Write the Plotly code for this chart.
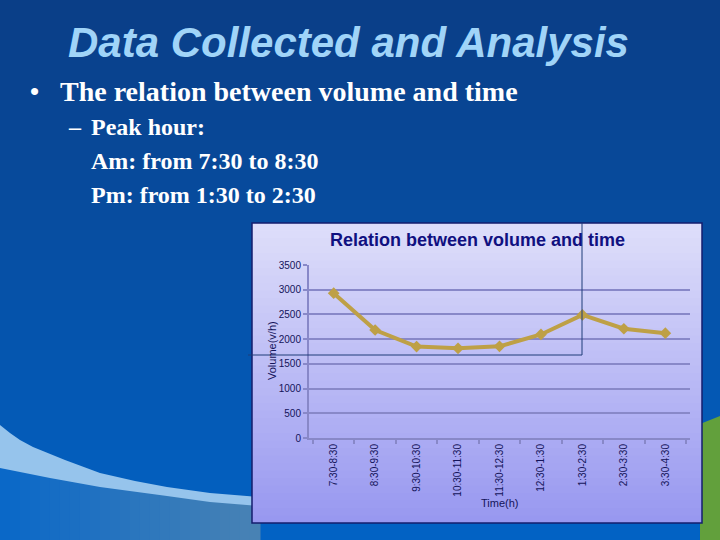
import plotly.graph_objects as go

# ---- data ----
time_slots = ["7:30-8:30", "8:30-9:30", "9:30-10:30", "10:30-11:30", "11:30-12:30",
              "12:30-1:30", "1:30-2:30", "2:30-3:30", "3:30-4:30"]
volume = [2930, 2185, 1850, 1815, 1855, 2095, 2490, 2210, 2120]
y_ticks = [0, 500, 1000, 1500, 2000, 2500, 3000, 3500]

W, H = 720, 540


def px(x):
    return x / W


def py(y):
    return 1 - y / H


def lerp_color(c1, c2, t):
    return "rgb(%d,%d,%d)" % tuple(round(a + (b - a) * t) for a, b in zip(c1, c2))


shapes = []
# slide background gradient (strips)
n = 54
top_c, bot_c = (10, 62, 135), (2, 98, 196)
for i in range(n):
    y0 = i * H / n
    y1 = (i + 1) * H / n + 0.6
    shapes.append(dict(type="rect", xref="paper", yref="paper", x0=0, x1=1,
                       y0=py(y1), y1=py(y0), fillcolor=lerp_color(top_c, bot_c, i / (n - 1)),
                       line=dict(width=0), layer="below"))


def path(pts):
    s = "M %f,%f" % (px(pts[0][0]), py(pts[0][1]))
    for x, y in pts[1:]:
        s += " L %f,%f" % (px(x), py(y))
    return s + " Z"


lower_edge = [(0, 468), (50, 478), (100, 487), (167, 496), (210, 502), (260, 506)]


def lower_y(x):
    for (xa, ya), (xb, yb) in zip(lower_edge[:-1], lower_edge[1:]):
        if xa <= x <= xb:
            return ya + (yb - ya) * (x - xa) / (xb - xa)
    return lower_edge[-1][1]


# lower region below the swoosh: horizontal gradient
step = 10
for i in range(0, 260, step):
    xa, xb = i, i + step + 0.5
    col = lerp_color((10, 104, 200), (72, 130, 180), i / 250)
    shapes.append(dict(type="path", xref="paper", yref="paper",
                       path=path([(xa, lower_y(xa) - 1), (xb, lower_y(min(xb, 260)) - 1), (xb, 540), (xa, 540)]),
                       fillcolor=col, line=dict(width=0), layer="below"))
# swoosh
upper = [(0, 425), (10, 433), (20, 440), (33, 447), (65, 460), (100, 473), (135, 481), (167, 487),
         (210, 493), (260, 497)]
lower = lower_edge[::-1]
shapes.append(dict(type="path", xref="paper", yref="paper", path=path(upper + lower),
                   fillcolor="rgb(150,196,236)", line=dict(width=0), layer="below"))
# green hill at right edge
shapes.append(dict(type="path", xref="paper", yref="paper",
                   path=path([(700, 424), (710, 420), (720, 416), (720, 540), (700, 540)]),
                   fillcolor="rgb(98,160,60)", line=dict(width=0), layer="below"))

# chart area gradient
cx0, cx1, cy0, cy1 = 252, 702, 223, 523
m = 40
c_top, c_bot = (222, 222, 250), (152, 152, 240)
for i in range(m):
    y0 = cy0 + i * (cy1 - cy0) / m
    y1 = cy0 + (i + 1) * (cy1 - cy0) / m + 0.5
    shapes.append(dict(type="rect", xref="paper", yref="paper", x0=px(cx0), x1=px(cx1),
                       y0=py(min(y1, cy1)), y1=py(y0), fillcolor=lerp_color(c_top, c_bot, i / (m - 1)),
                       line=dict(width=0), layer="below"))
shapes.append(dict(type="rect", xref="paper", yref="paper", x0=px(cx0), x1=px(cx1),
                   y0=py(cy1), y1=py(cy0), fillcolor="rgba(0,0,0,0)",
                   line=dict(color="rgb(20,30,110)", width=1.5), layer="below"))
# thin overlay lines
shapes.append(dict(type="line", xref="paper", yref="paper", x0=px(582), x1=px(582),
                   y0=py(355), y1=py(223), line=dict(color="rgb(30,60,120)", width=1), layer="above"))
shapes.append(dict(type="line", xref="paper", yref="paper", x0=px(248), x1=px(582),
                   y0=py(355), y1=py(355), line=dict(color="rgb(30,60,120)", width=1), layer="above"))

fig = go.Figure()
fig.add_trace(go.Scatter(
    x=time_slots, y=volume, mode="lines+markers",
    line=dict(color="rgb(190,160,70)", width=4),
    marker=dict(symbol="diamond", size=9, color="rgb(190,160,70)"),
    showlegend=False, cliponaxis=False))

grid_c = "rgb(136,136,200)"
tick_font = dict(family="Liberation Sans, Arial", size=10, color="rgb(20,20,90)")
serif = "Liberation Serif, Times New Roman"

annotations = [
    dict(text="<b><i>Data Collected and Analysis</i></b>", x=px(348), y=py(43), xref="paper", yref="paper",
         showarrow=False, xanchor="center", yanchor="middle",
         font=dict(family="Liberation Sans, Arial", size=42, color="rgb(160,212,248)")),
    dict(text="<b>•</b>", x=px(28), y=py(91), xref="paper", yref="paper", showarrow=False,
         xanchor="left", yanchor="middle",
         font=dict(family=serif, size=26, color="white")),
    dict(text="<b>The relation between volume and time</b>", x=px(58), y=py(91), xref="paper", yref="paper",
         showarrow=False, xanchor="left", yanchor="middle",
         font=dict(family=serif, size=28, color="white")),
    dict(text="<b>–</b>", x=px(66), y=py(127), xref="paper", yref="paper", showarrow=False,
         xanchor="left", yanchor="middle",
         font=dict(family=serif, size=24, color="white")),
    dict(text="<b>Peak hour:</b>", x=px(89), y=py(127), xref="paper", yref="paper", showarrow=False,
         xanchor="left", yanchor="middle",
         font=dict(family=serif, size=24, color="white")),
    dict(text="<b>Am: from 7:30 to 8:30</b>", x=px(89), y=py(161), xref="paper", yref="paper",
         showarrow=False, xanchor="left", yanchor="middle",
         font=dict(family=serif, size=24, color="white")),
    dict(text="<b>Pm: from 1:30 to 2:30</b>", x=px(89), y=py(195), xref="paper", yref="paper",
         showarrow=False, xanchor="left", yanchor="middle",
         font=dict(family=serif, size=24, color="white")),
    dict(text="<b>Relation between volume and time</b>", x=px(477), y=py(240), xref="paper", yref="paper",
         showarrow=False, xanchor="center", yanchor="middle",
         font=dict(family="Liberation Sans, Arial", size=18, color="rgb(16,16,128)")),
    dict(text="Volume(v/h)", x=px(272), y=py(351), xref="paper", yref="paper", showarrow=False,
         textangle=-90, xanchor="center", yanchor="middle",
         font=dict(family="Liberation Sans, Arial", size=11, color="rgb(20,20,90)")),
    dict(text="Time(h)", x=px(499), y=py(503), xref="paper", yref="paper", showarrow=False,
         xanchor="center", yanchor="middle",
         font=dict(family="Liberation Sans, Arial", size=11, color="rgb(20,20,90)")),
]

fig.update_layout(
    width=W, height=H, margin=dict(l=0, r=0, t=0, b=0, pad=0, autoexpand=False),
    paper_bgcolor="rgb(10,62,135)", plot_bgcolor="rgba(0,0,0,0)",
    shapes=shapes, annotations=annotations,
    xaxis=dict(domain=[px(309), px(690)], type="category", tickangle=-90, automargin=False,
               showgrid=False, showline=True, linecolor=grid_c, linewidth=2,
               ticks="outside", tickson="boundaries", ticklen=4, tickcolor=grid_c, tickwidth=1.5,
               tickfont=tick_font, fixedrange=True),
    yaxis=dict(domain=[py(438), py(265)], range=[0, 3500], tickvals=y_ticks, automargin=False,
               showgrid=True, gridcolor=grid_c, gridwidth=2, zeroline=False,
               showline=True, linecolor=grid_c, linewidth=2,
               ticks="outside", ticklen=4, tickcolor=grid_c, tickwidth=1.5,
               tickfont=tick_font, fixedrange=True),
)

fig.write_html("out.html", config={"displayModeBar": False},
               post_script="document.body.style.margin='0';document.body.style.overflow='hidden';")
